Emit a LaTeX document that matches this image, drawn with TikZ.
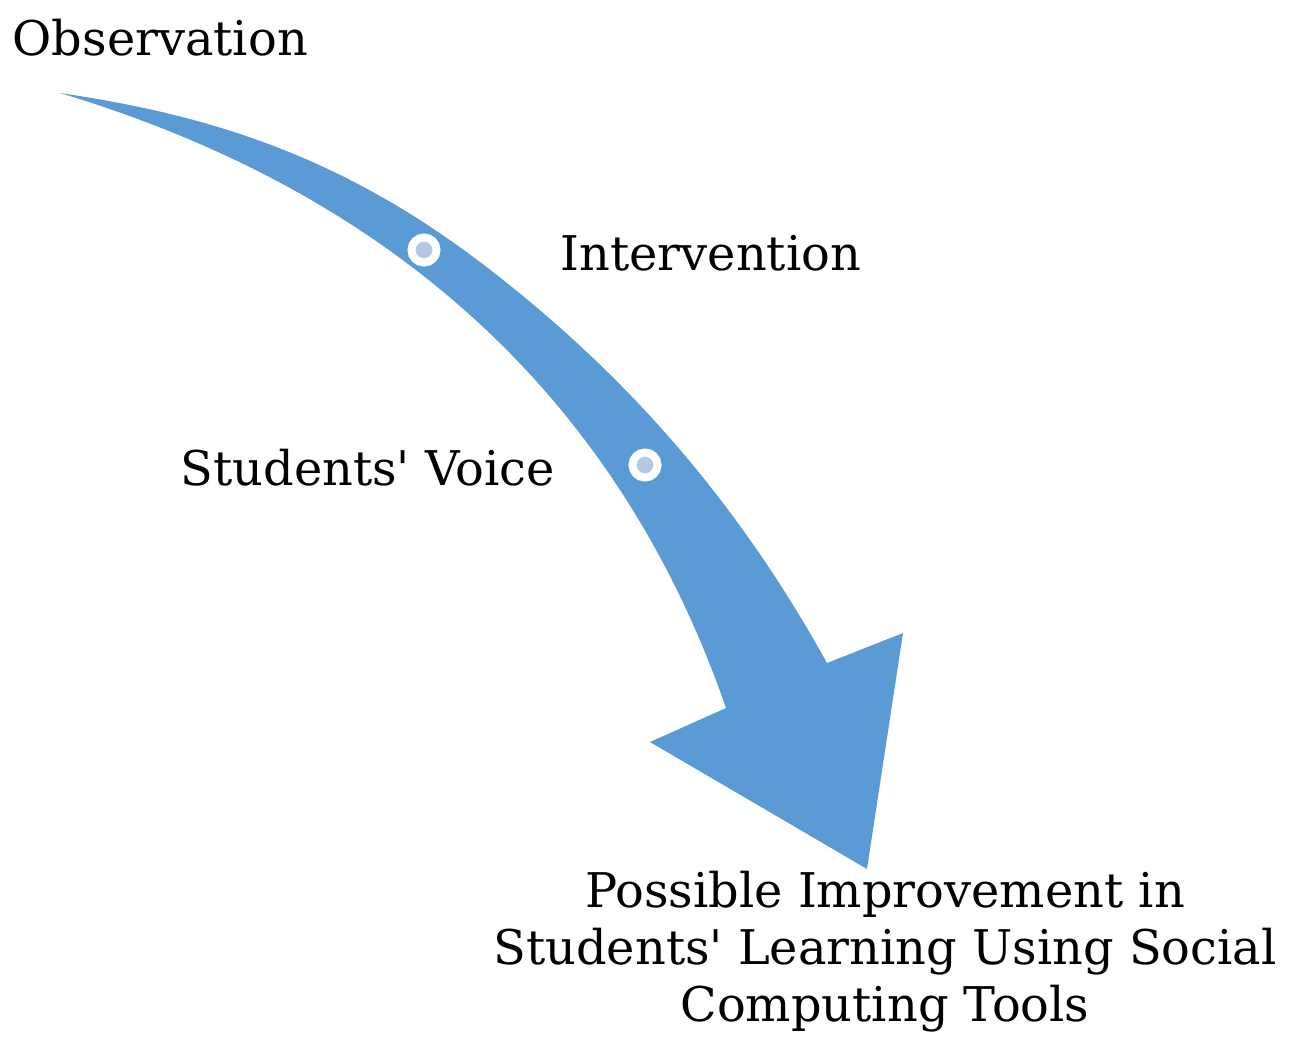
\documentclass[tikz,border=0pt]{standalone}
\usepackage{fontspec}
\setmainfont{DejaVu Serif}
\usepackage{tikz}

\definecolor{bandblue}{HTML}{5B9BD5}
\definecolor{dotblue}{HTML}{B4C7E7}

\begin{document}
\begin{tikzpicture}[x=0.01cm, y=-0.01cm]
        \tikzstyle{every node}=[inner sep=0pt, font=\fontsize{13.6}{16.2}\selectfont]
        \tikzstyle{dot}=[circle, draw=white, line width=0.8mm, fill=dotblue, minimum size=2.5mm]
        \useasboundingbox (0,0) rectangle (1294,1038);
        % curved band with its head
        \fill [bandblue] (60,93) .. controls (210,115) and (340,156) .. (480,262)
                .. controls (630,376) and (740,506) .. (827,663)
                -- (903,633) -- (867,869) -- (650,742) -- (726,708)
                .. controls (618,396) and (390,192) .. (60,93) -- cycle;
        \node [dot] (d1) at (424,250) {};
        \node [dot] (d2) at (645,465) {};
        \node [anchor=base west] (obs) at (12,55) {Observation};
        \node [anchor=base west] (int) at (560,270) {Intervention};
        \node [anchor=base west] (voice) at (180,485) {Students\textquotesingle{} Voice};
        \node [align=center] (impr) at (885,952) {Possible Improvement in\\Students\textquotesingle{} Learning Using Social\\Computing Tools};
\end{tikzpicture}
\end{document}
